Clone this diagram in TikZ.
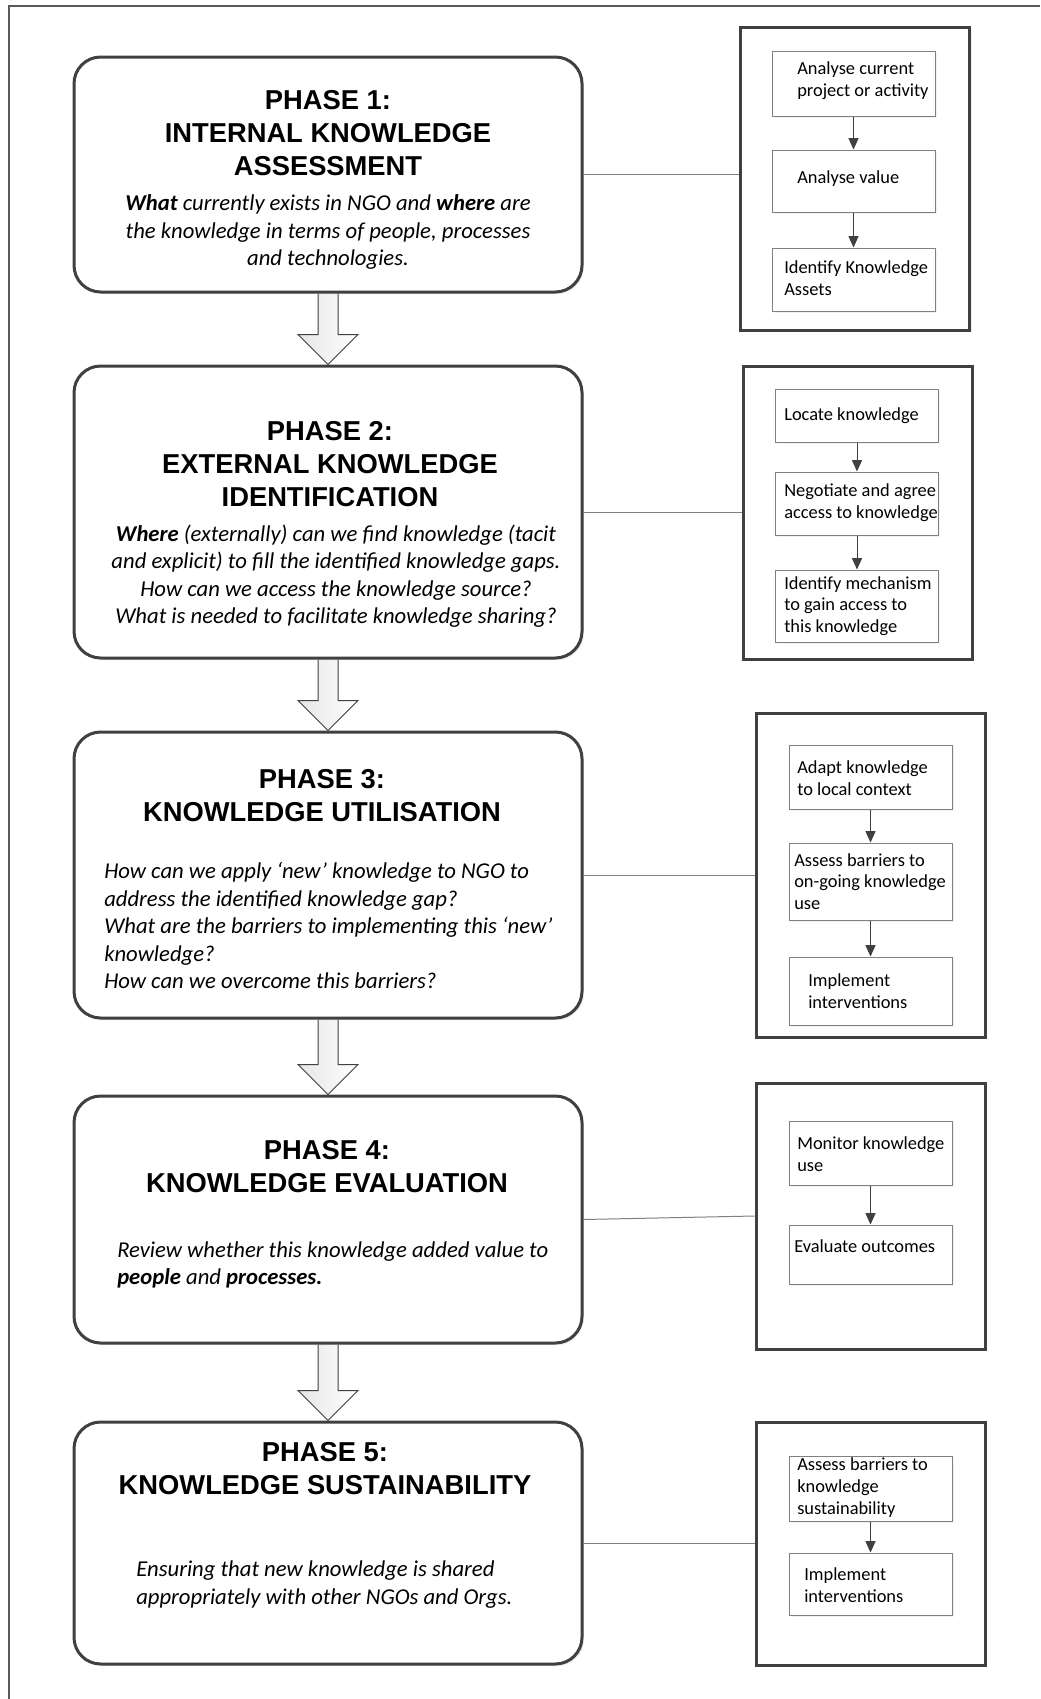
\documentclass[tikz,border=0pt]{standalone}
\usepackage{fontspec}
\setmainfont{Carlito}
\newfontfamily\headfont{Liberation Sans}
\usetikzlibrary{arrows.meta,shadows,calc,backgrounds}

\definecolor{boxline}{HTML}{404040}
\definecolor{thinline}{HTML}{808080}

\begin{document}
\begin{tikzpicture}[x=0.75pt, y=-0.75pt,
    phase/.style={draw=boxline, line width=2.25pt, rounded corners=20pt, fill=white,
        drop shadow={shadow xshift=1.5pt, shadow yshift=-1.5pt, opacity=0.15},
        minimum width=381pt, inner sep=0pt},
    group/.style={draw=boxline, line width=2.25pt, fill=white,
        drop shadow={shadow xshift=1.5pt, shadow yshift=-1.5pt, opacity=0.15},
        minimum width=171.75pt, inner sep=0pt},
    stepbox/.style={draw=thinline, line width=0.75pt, fill=white,
        drop shadow={shadow xshift=1.2pt, shadow yshift=-1.2pt, opacity=0.1},
        minimum width=122.25pt, inner sep=0pt},
    head/.style={font=\headfont\bfseries\fontsize{20.5}{24.75}\selectfont, align=center, inner sep=0pt},
    desc/.style={font=\itshape\fontsize{17}{20.6}\selectfont, inner sep=0pt},
    steptext/.style={anchor=west, align=left, inner sep=0pt, font=\fontsize{13.8}{16.3}\selectfont},
    steparrow/.style={draw=boxline, line width=0.75pt, -{Triangle[length=8.5pt,width=7.5pt]}},
    link/.style={draw=thinline, line width=0.75pt},
    flow/.style={draw=boxline, line width=0.75pt, left color=black!10, right color=white}]
    \useasboundingbox (0,0) rectangle (1040,1699);
    \draw[black!65, line width=1.5pt] (1040,6) -- (9,6) -- (9,1699);

    % phases
    \node[phase, minimum height=176.25pt] (p1) at (328,174.5) {};
    \node[phase, minimum height=219pt] (p2) at (328,512) {};
    \node[phase, minimum height=214.5pt] (p3) at (328,875) {};
    \node[phase, minimum height=185.25pt] (p4) at (328,1219.5) {};
    \node[phase, minimum height=181.5pt] (p5) at (328,1543) {};

    \node[head] (h1) at (328,133.5) {PHASE 1:\\INTERNAL KNOWLEDGE\\ASSESSMENT};
    \node[desc, align=center] (d1) at (328,232)
        {\textbf{What} currently exists in NGO and \textbf{where} are\\the knowledge in terms of people, processes\\and technologies.};
    \node[head] (h2) at (330,464.5) {PHASE 2:\\EXTERNAL KNOWLEDGE\\IDENTIFICATION};
    \node[desc, align=center] (d2) at (336,576)
        {\textbf{Where} (externally) can we find knowledge (tacit\\and explicit) to fill the identified knowledge gaps.\\How can we access the knowledge source?\\What is needed to facilitate knowledge sharing?};
    \node[head] (h3) at (322,795.5) {PHASE 3:\\KNOWLEDGE UTILISATION};
    \node[desc, anchor=west, align=left] (d3) at (104,925.5)
        {How can we apply ‘new’ knowledge to NGO to\\address the identified knowledge gap?\\What are the barriers to implementing this ‘new’\\knowledge?\\How can we overcome this barriers?};
    \node[head] (h4) at (327,1167) {PHASE 4:\\KNOWLEDGE EVALUATION};
    \node[desc, anchor=west, align=left] (d4) at (117,1265)
        {Review whether this knowledge added value to\\\textbf{people} and \textbf{processes.}};
    \node[head] (h5) at (325,1468.5) {PHASE 5:\\KNOWLEDGE SUSTAINABILITY};
    \node[desc, anchor=west, align=left] (d5) at (136,1584.5)
        {Ensuring that new knowledge is shared\\appropriately with other NGOs and Orgs.};

    % phase to phase
    \begin{scope}[on background layer]
    \draw[flow] ($(p1.south)+(-10,0)$) -- ($(p2.north)+(-10,-30)$) -- ($(p2.north)+(-30,-30)$)
        -- (p2.north) -- ($(p2.north)+(30,-30)$) -- ($(p2.north)+(10,-30)$) -- ($(p1.south)+(10,0)$);
    \draw[flow] ($(p2.south)+(-10,0)$) -- ($(p3.north)+(-10,-30)$) -- ($(p3.north)+(-30,-30)$)
        -- (p3.north) -- ($(p3.north)+(30,-30)$) -- ($(p3.north)+(10,-30)$) -- ($(p2.south)+(10,0)$);
    \draw[flow] ($(p3.south)+(-10,0)$) -- ($(p4.north)+(-10,-30)$) -- ($(p4.north)+(-30,-30)$)
        -- (p4.north) -- ($(p4.north)+(30,-30)$) -- ($(p4.north)+(10,-30)$) -- ($(p3.south)+(10,0)$);
    \draw[flow] ($(p4.south)+(-10,0)$) -- ($(p5.north)+(-10,-30)$) -- ($(p5.north)+(-30,-30)$)
        -- (p5.north) -- ($(p5.north)+(30,-30)$) -- ($(p5.north)+(10,-30)$) -- ($(p4.south)+(10,0)$);
    \end{scope}

    % activity groups
    \node[group, minimum height=227.25pt] (r1) at (855,178.5) {};
    \node[group, minimum height=219.75pt] (r2) at (857.5,512.5) {};
    \node[group, minimum height=243pt] (r3) at (870.5,875) {};
    \node[group, minimum height=199.5pt] (r4) at (870.5,1216) {};
    \node[group, minimum height=182.25pt] (r5) at (870.5,1543.5) {};

    \draw[link] (p1.east) -- (p1.east -| r1.west);
    \draw[link] (p2.east) -- (p2.east -| r2.west);
    \draw[link] (p3.east) -- (p3.east -| r3.west);
    \draw[link] (p4.east) -- (r4.west);
    \draw[link] (p5.east) -- (p5.east -| r5.west);

    % steps
    \node[stepbox, minimum height=48.75pt] (b11) at (853.5,83.5) {};
    \node[stepbox, minimum height=46.5pt] (b12) at (853.5,181) {};
    \node[stepbox, minimum height=47.25pt] (b13) at (853.5,279.5) {};
    \node[steptext] (t11) at (797,81) {Analyse current\\project or activity};
    \node[steptext] (t12) at (797,179) {Analyse value};
    \node[steptext] (t13) at (784,278.5) {Identify Knowledge\\Assets};
    \draw[steparrow] (b11) -- (b12);
    \draw[steparrow] (b12) -- (b13);

    \node[stepbox, minimum height=39.75pt] (b21) at (857,415.5) {};
    \node[stepbox, minimum height=47.25pt] (b22) at (857,503.5) {};
    \node[stepbox, minimum height=54pt] (b23) at (857,606) {};
    \node[steptext] (t21) at (784,416) {Locate knowledge};
    \node[steptext] (t22) at (784,503) {Negotiate and agree\\access to knowledge};
    \node[steptext] (t23) at (784,606) {Identify mechanism\\to gain access to\\this knowledge};
    \draw[steparrow] (b21) -- (b22);
    \draw[steparrow] (b22) -- (b23);

    \node[stepbox, minimum height=48pt] (b31) at (870.5,777) {};
    \node[stepbox, minimum height=57.75pt] (b32) at (870.5,881.5) {};
    \node[stepbox, minimum height=51pt] (b33) at (870.5,991) {};
    \node[steptext] (t31) at (797,778) {Adapt knowledge\\to local context};
    \node[steptext] (t32) at (794,881.5) {Assess barriers to\\on-going knowledge\\use};
    \node[steptext] (t33) at (808,991) {Implement\\interventions};
    \draw[steparrow] (b31) -- (b32);
    \draw[steparrow] (b32) -- (b33);

    \node[stepbox, minimum height=48pt] (b41) at (870.5,1153) {};
    \node[stepbox, minimum height=44.25pt] (b42) at (870.5,1254.5) {};
    \node[steptext] (t41) at (797,1154) {Monitor knowledge\\use};
    \node[steptext] (t42) at (794,1246) {Evaluate outcomes};
    \draw[steparrow] (b41) -- (b42);

    \node[stepbox, minimum height=48.75pt] (b51) at (870.5,1488.5) {};
    \node[stepbox, minimum height=46.5pt] (b52) at (870.5,1584) {};
    \node[steptext] (t51) at (797,1487.5) {Assess barriers to\\knowledge\\sustainability};
    \node[steptext] (t52) at (804,1585) {Implement\\interventions};
    \draw[steparrow] (b51) -- (b52);
\end{tikzpicture}
\end{document}
